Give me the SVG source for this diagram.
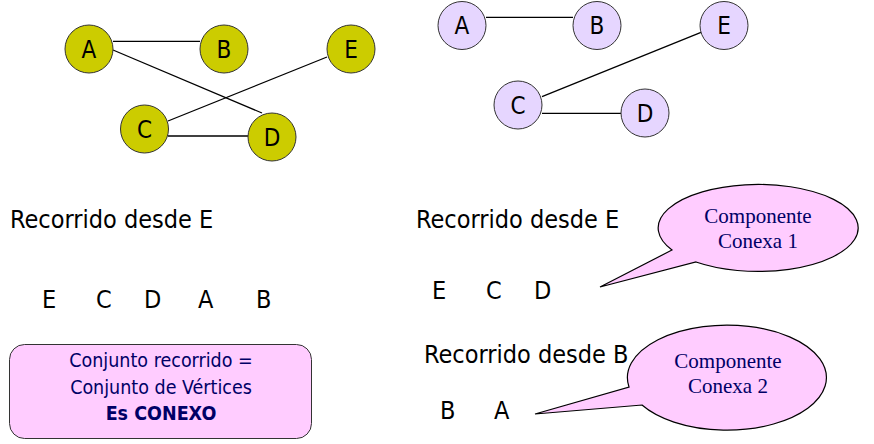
<svg xmlns="http://www.w3.org/2000/svg" width="874" height="444" viewBox="0 0 874 444">
<style>
.bg{fill:#ffffff}
.edge{stroke:#000000;stroke-width:1.3;fill:none}
.n1 circle{fill:#cccc00;stroke:#333333;stroke-width:1}
.n2 circle{fill:#e6d6ff;stroke:#333333;stroke-width:1}
.lbl{font-family:"DejaVu Sans Condensed","DejaVu Sans",sans-serif;font-size:24px;fill:#000000;text-anchor:middle}
.t{font-family:"DejaVu Sans Condensed","DejaVu Sans",sans-serif;font-size:25px;fill:#000000}
.box{fill:#ffccff;stroke:#333333;stroke-width:1}
.bt{font-family:"DejaVu Sans Condensed","DejaVu Sans",sans-serif;font-size:19.5px;fill:#000066;text-anchor:middle}
.call{fill:#ffccff;stroke:#000000;stroke-width:1.2}
.ct{font-family:"Liberation Serif","Times New Roman",serif;font-size:21px;fill:#000066;text-anchor:middle}
</style>
<rect class="bg" x="0" y="0" width="874" height="444"/>
<g id="connectors">
<line class="edge" x1="113" y1="41.3" x2="200" y2="41.3"/>
<line class="edge" x1="113" y1="50" x2="262" y2="113"/>
<line class="edge" x1="327" y1="57" x2="168" y2="121"/>
<line class="edge" x1="168" y1="136" x2="248" y2="136"/>
<line class="edge" x1="486" y1="17.3" x2="573" y2="17.3"/>
<line class="edge" x1="701" y1="32.3" x2="542" y2="96.7"/>
<line class="edge" x1="542" y1="113.3" x2="621" y2="113.3"/>
</g>
<g id="g1A" class="n1"><circle cx="89" cy="49" r="24"/><text class="lbl" x="89" y="57.5">A</text></g>
<g id="g1B" class="n1"><circle cx="224" cy="49" r="24"/><text class="lbl" x="224" y="57.5">B</text></g>
<g id="g1E" class="n1"><circle cx="351" cy="49" r="24"/><text class="lbl" x="351" y="57.5">E</text></g>
<g id="g1C" class="n1"><circle cx="144.5" cy="129" r="24"/><text class="lbl" x="144.5" y="137.5">C</text></g>
<g id="g1D" class="n1"><circle cx="272" cy="137" r="24"/><text class="lbl" x="272" y="145.5">D</text></g>
<g id="g2A" class="n2"><circle cx="462" cy="25.5" r="24"/><text class="lbl" x="462" y="34">A</text></g>
<g id="g2B" class="n2"><circle cx="597" cy="25.5" r="24"/><text class="lbl" x="597" y="34">B</text></g>
<g id="g2E" class="n2"><circle cx="724" cy="25.5" r="24"/><text class="lbl" x="724" y="34">E</text></g>
<g id="g2C" class="n2"><circle cx="518" cy="105" r="24"/><text class="lbl" x="518" y="113.5">C</text></g>
<g id="g2D" class="n2"><circle cx="645" cy="113" r="24"/><text class="lbl" x="645" y="121.5">D</text></g>
<text class="t" x="10" y="228">Recorrido desde E</text>
<g class="t">
<text x="42" y="308">E</text><text x="96" y="308">C</text><text x="144" y="308">D</text><text x="198" y="308">A</text><text x="256" y="308">B</text>
</g>
<text class="t" x="416" y="228">Recorrido desde E</text>
<g class="t">
<text x="432" y="299">E</text><text x="486" y="299">C</text><text x="534" y="299">D</text>
</g>
<text class="t" x="424" y="363">Recorrido desde B</text>
<g class="t">
<text x="440" y="419">B</text><text x="494" y="419">A</text>
</g>
<g id="box">
<rect class="box" x="9.5" y="344.5" width="302" height="94" rx="15" ry="15"/>
<text class="bt" x="161" y="367">Conjunto recorrido =</text>
<text class="bt" x="161" y="394">Conjunto de Vértices</text>
<text class="bt" x="161" y="420" font-weight="bold">Es CONEXO</text>
</g>
<g id="callout1">
<path class="call" d="M672,250 A100,43.5 0 1,1 696,262 L600,287 Z"/>
<text class="ct" x="758" y="223">Componente</text>
<text class="ct" x="758" y="248">Conexa 1</text>
</g>
<g id="callout2">
<path class="call" d="M629,387 A99.5,52.5 0 1,1 642,405 L535,414 Z"/>
<text class="ct" x="728" y="368">Componente</text>
<text class="ct" x="728" y="393">Conexa 2</text>
</g>
</svg>
